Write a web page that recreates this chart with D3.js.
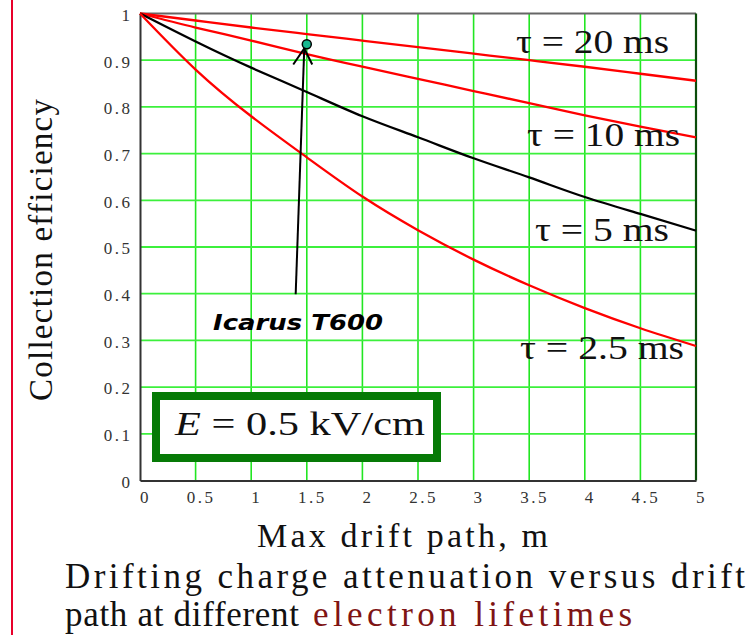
<!DOCTYPE html>
<html>
<head>
<meta charset="utf-8">
<script src="https://cdn.jsdelivr.net/npm/d3@7"></script>
<style>
  html, body { margin: 0; padding: 0; background: #fff; }
  svg { display: block; }
</style>
</head>
<body>
<svg id="chart" width="753" height="635"></svg>
<script>
// ---------- data ----------
const driftPath = [0, 0.5, 1, 1.5, 2, 2.5, 3, 3.5, 4, 4.5, 5];
const tau20  = [1, 0.985, 0.970, 0.956, 0.942, 0.928, 0.914, 0.900, 0.886, 0.871, 0.856];
const tau10  = [1, 0.970, 0.942, 0.913, 0.886, 0.860, 0.834, 0.808, 0.782, 0.758, 0.735];
const tau5   = [1, 0.940, 0.884, 0.832, 0.780, 0.735, 0.690, 0.649, 0.607, 0.571, 0.535];
const tau2p5 = [1, 0.880, 0.780, 0.692, 0.608, 0.536, 0.473, 0.418, 0.369, 0.326, 0.288];
const seriesNames = ["τ = 20 ms", "τ = 10 ms", "τ = 5 ms", "τ = 2.5 ms"];
const xTicks = [0, 0.5, 1, 1.5, 2, 2.5, 3, 3.5, 4, 4.5, 5];
const xTickLabels = ["0", "0.5", "1", "1.5", "2", "2.5", "3", "3.5", "4", "4.5", "5"];
const yTicks = [0, 0.1, 0.2, 0.3, 0.4, 0.5, 0.6, 0.7, 0.8, 0.9, 1];
const yTickLabels = ["0", "0.1", "0.2", "0.3", "0.4", "0.5", "0.6", "0.7", "0.8", "0.9", "1"];
const icarusPoint = [1.5, 0.934];
const icarusArrowBase = [1.40, 0.399];
const icarusArrowTip = [1.477, 0.925];
const icarusLabel = "Icarus T600";
const fieldLabel = "0.5 kV/cm";
const xTitle = "Max drift path, m";
const yTitle = "Collection efficiency";
const captionLine1 = "Drifting charge attenuation versus drift";
const captionLine2a = "path at different";
const captionLine2b = "electron lifetimes";

// ---------- layout ----------
const svg = d3.select("#chart");
const pLeft = 140, pRight = 696, pTop = 13.5, pBottom = 480.5;
const x = d3.scaleLinear().domain([0, 5]).range([pLeft, pRight]);
const y = d3.scaleLinear().domain([0, 1]).range([pBottom, pTop]);
const serif = "'Liberation Serif', 'DejaVu Serif', serif";

// left slide border
svg.append("line").attr("x1", 12).attr("x2", 12).attr("y1", 0).attr("y2", 635)
  .attr("stroke", "#e8002a").attr("stroke-width", 2);

// grid
const grid = svg.append("g");
grid.selectAll("line.v").data(xTicks.filter(d => d > 0 && d < 5)).join("line")
  .attr("class", "v")
  .attr("x1", d => x(d)).attr("x2", d => x(d)).attr("y1", pTop).attr("y2", pBottom)
  .attr("stroke", "#22e622").attr("stroke-width", 1.6);
grid.selectAll("line.h").data(yTicks.filter(d => d > 0 && d < 1)).join("line")
  .attr("class", "h")
  .attr("x1", pLeft).attr("x2", pRight).attr("y1", d => y(d)).attr("y2", d => y(d))
  .attr("stroke", "#3cf03c").attr("stroke-width", 1.8);

// frame
svg.append("line").attr("x1", pLeft).attr("x2", pRight).attr("y1", pTop).attr("y2", pTop)
  .attr("stroke", "#666").attr("stroke-width", 2);
svg.append("line").attr("x1", pRight).attr("x2", pRight).attr("y1", pTop).attr("y2", pBottom)
  .attr("stroke", "#0b4d0b").attr("stroke-width", 2.2);

// axes
const xAxis = d3.axisBottom(x).tickValues(xTicks).tickSize(0).tickPadding(0)
  .tickFormat((d, i) => xTickLabels[i]);
const gx = svg.append("g").attr("transform", `translate(0,${pBottom})`).call(xAxis);
gx.attr("font-family", serif).attr("font-size", 17);
gx.select(".domain").attr("stroke", "#333").attr("stroke-width", 2);
gx.selectAll("text").attr("fill", "#333").attr("letter-spacing", 2.5)
  .attr("dx", 5).attr("dy", 0).attr("y", 22);

const yAxis = d3.axisLeft(y).tickValues(yTicks).tickSize(0).tickPadding(7.5)
  .tickFormat((d, i) => yTickLabels[i]);
const gy = svg.append("g").attr("transform", `translate(${pLeft},0)`).call(yAxis);
gy.attr("font-family", serif).attr("font-size", 17);
gy.select(".domain").attr("stroke", "#333").attr("stroke-width", 2);
gy.selectAll("text").attr("fill", "#333").attr("letter-spacing", 2.5).attr("dy", "0.4em");

// curves
const allSeries = [tau20, tau10, tau5, tau2p5];
const colors = ["#ff0000", "#ff0000", "#000000", "#ff0000"];
const line = d3.line().x((d, i) => x(driftPath[i])).y(d => y(d)).curve(d3.curveNatural);
svg.append("g").selectAll("path").data(allSeries).join("path")
  .attr("d", d => line(d)).attr("fill", "none")
  .attr("stroke", (d, i) => colors[i]).attr("stroke-width", 2.3);

// tau labels
const labelPos = [[516, 53, 153], [527, 146, 153], [535, 241, 134], [520, 359, 164]];
svg.append("g").selectAll("text").data(seriesNames).join("text")
  .attr("x", (d, i) => labelPos[i][0]).attr("y", (d, i) => labelPos[i][1])
  .attr("textLength", (d, i) => labelPos[i][2]).attr("lengthAdjust", "spacingAndGlyphs")
  .attr("font-family", serif).attr("font-size", 34).attr("fill", "#111").text(d => d);

// Icarus annotation
svg.append("line")
  .attr("x1", x(icarusArrowBase[0])).attr("y1", y(icarusArrowBase[1]))
  .attr("x2", x(icarusArrowTip[0])).attr("y2", y(icarusArrowTip[1]))
  .attr("stroke", "#000").attr("stroke-width", 2);
const tx = x(icarusArrowTip[0]), ty = y(icarusArrowTip[1]);
svg.append("path")
  .attr("d", `M${tx - 11},${ty + 16} L${tx},${ty} L${tx + 8},${ty + 16}`)
  .attr("fill", "none").attr("stroke", "#000").attr("stroke-width", 2);
svg.append("circle").attr("cx", x(icarusPoint[0])).attr("cy", y(icarusPoint[1])).attr("r", 4.5)
  .attr("fill", "#17b890").attr("stroke", "#000").attr("stroke-width", 1.5);
svg.append("text").attr("x", 213).attr("y", 330).attr("textLength", 170)
  .attr("lengthAdjust", "spacingAndGlyphs")
  .attr("font-family", "'DejaVu Sans', sans-serif").attr("font-weight", "bold")
  .attr("font-style", "italic").attr("font-size", 21).attr("fill", "#000").text(icarusLabel);

// field box
svg.append("rect").attr("x", 156).attr("y", 396).attr("width", 281).attr("height", 62)
  .attr("fill", "#fff").attr("stroke", "#067a06").attr("stroke-width", 8);
const ft = svg.append("text").attr("x", 175).attr("y", 435)
  .attr("font-family", serif).attr("font-size", 34).attr("fill", "#111")
  .attr("textLength", 250).attr("lengthAdjust", "spacingAndGlyphs");
ft.append("tspan").attr("font-style", "italic").text("E");
ft.append("tspan").text(" = " + fieldLabel);

// axis titles
svg.append("text").attr("x", 257).attr("y", 547)
  .attr("font-family", serif).attr("font-size", 34).attr("fill", "#111")
  .attr("textLength", 291).attr("lengthAdjust", "spacing").text(xTitle);
svg.append("text").attr("transform", "translate(52,250) rotate(-90)").attr("text-anchor", "middle")
  .attr("font-family", serif).attr("font-size", 33).attr("fill", "#111")
  .attr("textLength", 302).attr("lengthAdjust", "spacing").text(yTitle);

// caption
svg.append("text").attr("x", 65).attr("y", 588)
  .attr("font-family", serif).attr("font-size", 35).attr("fill", "#111")
  .attr("textLength", 680).attr("lengthAdjust", "spacing").text(captionLine1);
svg.append("text").attr("x", 65).attr("y", 626)
  .attr("font-family", serif).attr("font-size", 35).attr("fill", "#111")
  .attr("textLength", 234).attr("lengthAdjust", "spacing").text(captionLine2a);
svg.append("text").attr("x", 313).attr("y", 626)
  .attr("font-family", serif).attr("font-size", 35).attr("fill", "#7f1414")
  .attr("textLength", 319).attr("lengthAdjust", "spacing").text(captionLine2b);
</script>
</body>
</html>
